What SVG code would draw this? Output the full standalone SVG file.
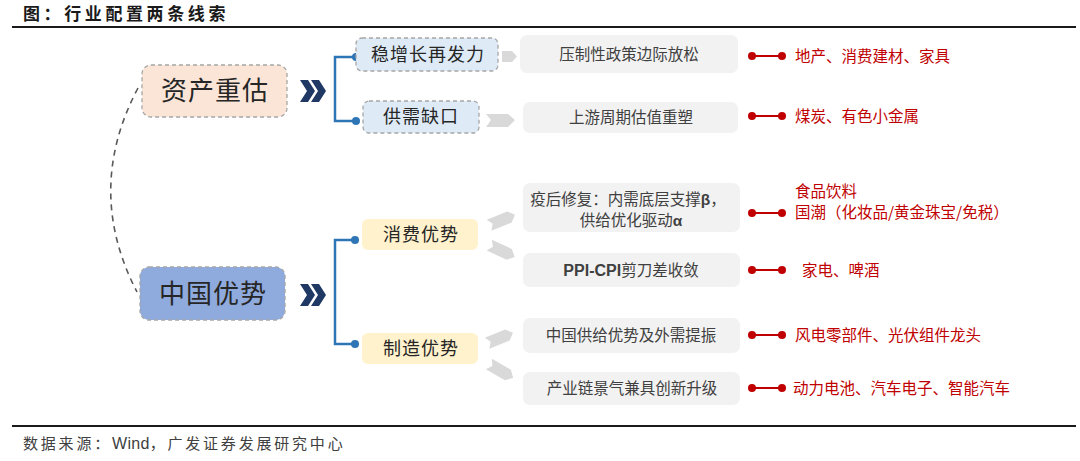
<svg xmlns="http://www.w3.org/2000/svg" width="1080" height="461" viewBox="0 0 1080 461">
<defs>
<style>
text{font-family:"Noto Sans CJK SC","Noto Sans",sans-serif;}
.title{font-size:17px;font-weight:bold;fill:#1a1a1a;letter-spacing:3.6px;}
.foot{font-size:15px;fill:#404040;letter-spacing:2.8px;}
.big{font-size:26px;fill:#262626;text-anchor:middle;letter-spacing:1px;}
.mid{font-size:18px;fill:#262626;text-anchor:middle;letter-spacing:1px;}
.grey{font-size:15.5px;fill:#404040;text-anchor:middle;}
.red{font-size:15.5px;fill:#c00000;}
.gbox{fill:#f2f2f2;}
.garrow{fill:#d9d9d9;}
.chev{fill:#203864;}
.br{fill:none;stroke:#2e75b6;stroke-width:2.5;}
.brd{fill:#2e75b6;}
.rl{stroke:#c00000;stroke-width:2;}
.rd{fill:#c00000;}
.dash{stroke:#a6a6a6;stroke-width:1.3;stroke-dasharray:4 3;}
</style>
<symbol id="arrowG" overflow="visible"><polygon points="-14,-6 8,-6 14,0 8,6 -14,6 -10,0"/></symbol>
<symbol id="chevs" overflow="visible"><polygon points="0,0 8,0 15,11 8,22 0,22 7,11"/><polygon points="11,0 19,0 26,11 19,22 11,22 18,11"/></symbol>
</defs>
<rect width="1080" height="461" fill="#ffffff"/>

<text class="title" x="23" y="20">图：行业配置两条线索</text>
<line x1="12" y1="27" x2="1076" y2="27" stroke="#1a1a1a" stroke-width="2"/>
<line x1="12" y1="426" x2="1076" y2="426" stroke="#1a1a1a" stroke-width="2"/>
<text class="foot" x="23" y="449">数据来源：<tspan font-family="Liberation Sans,sans-serif" font-size="16" letter-spacing="0.3">Wind</tspan>，广发证券发展研究中心</text>

<g id="connectors">
  <path d="M138 88 Q84 190 137 292" fill="none" stroke="#595959" stroke-width="1.6" stroke-dasharray="6 5"/>
  <g class="chev">
    <use href="#chevs" x="300" y="80"/>
    <use href="#chevs" x="300" y="284"/>
  </g>
  <path class="br" d="M356 57 H335 V121 H356"/>
  <circle class="brd" cx="356" cy="57" r="4"/>
  <circle class="brd" cx="356" cy="121" r="4"/>
  <path class="br" d="M355 240 H335 V344 H355"/>
  <circle class="brd" cx="355" cy="240" r="4"/>
  <circle class="brd" cx="355" cy="344" r="4"/>
  <g class="garrow">
    <polygon points="502,51 512,51 517,56.5 512,62 502,62"/>
    <polygon points="486,114 508,114 515,120 508,127 486,127 491,120"/>
    <use href="#arrowG" transform="translate(502,220) rotate(-22)"/>
    <use href="#arrowG" transform="translate(502,251) rotate(25)"/>
    <use href="#arrowG" transform="translate(500,338) rotate(-22)"/>
    <use href="#arrowG" transform="translate(501,371) rotate(30)"/>
  </g>
  <g>
    <line class="rl" x1="752" y1="56" x2="782" y2="56"/><circle class="rd" cx="752" cy="56" r="4"/><circle class="rd" cx="782" cy="56" r="4"/>
    <line class="rl" x1="752" y1="116" x2="782" y2="116"/><circle class="rd" cx="752" cy="116" r="4"/><circle class="rd" cx="782" cy="116" r="4"/>
    <line class="rl" x1="752" y1="213" x2="782" y2="213"/><circle class="rd" cx="752" cy="213" r="4"/><circle class="rd" cx="782" cy="213" r="4"/>
    <line class="rl" x1="752" y1="270" x2="782" y2="270"/><circle class="rd" cx="752" cy="270" r="4"/><circle class="rd" cx="782" cy="270" r="4"/>
    <line class="rl" x1="752" y1="335" x2="782" y2="335"/><circle class="rd" cx="752" cy="335" r="4"/><circle class="rd" cx="782" cy="335" r="4"/>
    <line class="rl" x1="752" y1="388" x2="782" y2="388"/><circle class="rd" cx="752" cy="388" r="4"/><circle class="rd" cx="782" cy="388" r="4"/>
  </g>
</g>

<g id="node-zichan">
  <rect x="142" y="65" width="145" height="52" rx="9" fill="#fbe5d6" class="dash"/>
  <text class="big" x="215" y="100">资产重估</text>
</g>
<g id="node-zhongguo">
  <rect x="140" y="267" width="145" height="53" rx="9" fill="#8faadc" class="dash"/>
  <text class="big" x="213" y="303" fill="#1a2540">中国优势</text>
</g>
<g id="node-wenzeng">
  <rect x="356" y="38" width="142" height="33" rx="6" fill="#deebf7" class="dash"/>
  <text class="mid" x="428" y="61">稳增长再发力</text>
</g>
<g id="node-gongxu">
  <rect x="363" y="101" width="116" height="32" rx="6" fill="#deebf7" class="dash"/>
  <text class="mid" x="421" y="123">供需缺口</text>
</g>
<g id="node-xiaofei">
  <rect x="362" y="219" width="116" height="31" rx="6" fill="#fff2cc"/>
  <text class="mid" x="421" y="241">消费优势</text>
</g>
<g id="node-zhizao">
  <rect x="362" y="333" width="116" height="31" rx="6" fill="#fff2cc"/>
  <text class="mid" x="421" y="355">制造优势</text>
</g>

<g id="node-yazhi">
  <rect class="gbox" x="520" y="35" width="218" height="38" rx="7"/>
  <text class="grey" x="629" y="60">压制性政策边际放松</text>
</g>
<g id="node-shangyou">
  <rect class="gbox" x="523" y="102" width="215" height="31" rx="7"/>
  <text class="grey" x="631" y="123">上游周期估值重塑</text>
</g>
<g id="node-yihou">
  <rect class="gbox" x="523" y="183" width="217" height="49" rx="7"/>
  <text class="grey" x="628" y="205">疫后修复：内需底层支撑<tspan font-family="Liberation Sans,sans-serif" font-weight="bold">β</tspan>，</text>
  <text class="grey" x="631" y="226">供给优化驱动<tspan font-family="Liberation Sans,sans-serif" font-weight="bold">α</tspan></text>
</g>
<g id="node-ppi">
  <rect class="gbox" x="523" y="253" width="217" height="34" rx="7"/>
  <text class="grey" x="631" y="276"><tspan font-family="Liberation Sans,sans-serif" font-weight="bold" font-size="16">PPI-CPI</tspan>剪刀差收敛</text>
</g>
<g id="node-gongji">
  <rect class="gbox" x="523" y="318" width="217" height="35" rx="7"/>
  <text class="grey" x="631" y="341">中国供给优势及外需提振</text>
</g>
<g id="node-chanye">
  <rect class="gbox" x="523" y="372" width="217" height="33" rx="7"/>
  <text class="grey" x="632" y="394">产业链景气兼具创新升级</text>
</g>

<g id="labels-red">
  <text class="red" x="795" y="62">地产、消费建材、家具</text>
  <text class="red" x="795" y="122">煤炭、有色小金属</text>
  <text class="red" x="795" y="197">食品饮料</text>
  <text class="red" x="795" y="218">国潮（化妆品/黄金珠宝/免税）</text>
  <text class="red" x="802" y="276">家电、啤酒</text>
  <text class="red" x="795" y="341">风电零部件、光伏组件龙头</text>
  <text class="red" x="793" y="394">动力电池、汽车电子、智能汽车</text>
</g>
</svg>
